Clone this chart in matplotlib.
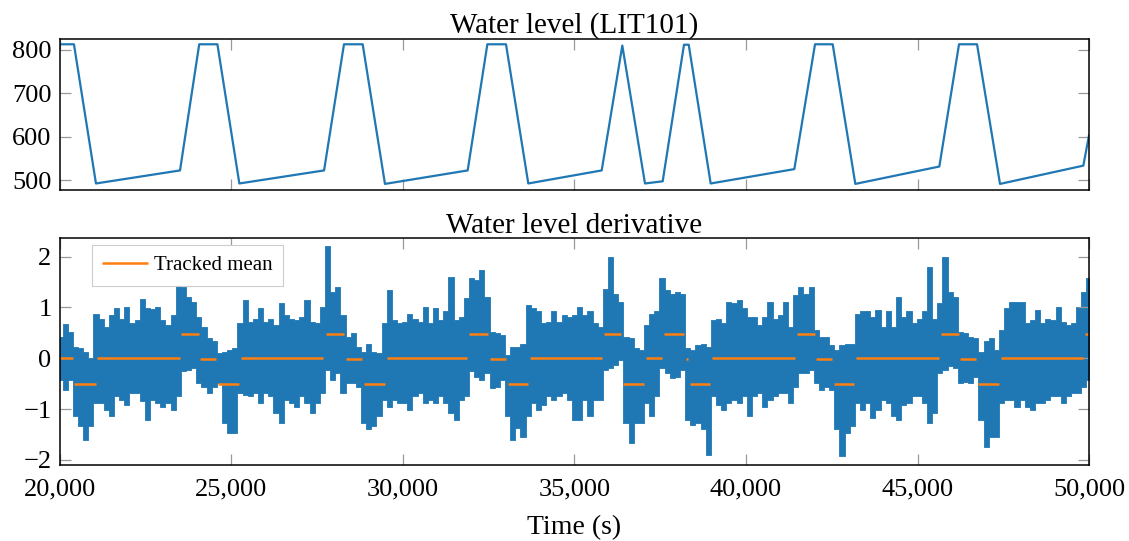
import numpy as np
import matplotlib
matplotlib.use("Agg")
import matplotlib.pyplot as plt
from matplotlib.ticker import FuncFormatter

plt.rcParams['font.family'] = ['Liberation Serif', 'DejaVu Serif']
plt.rcParams['font.size'] = 19

BLUE = '#1f77b4'
ORANGE = '#ff7f0e'

# water level breakpoints (LIT101)
level_t = [20000, 20408, 21050, 23500, 24060, 24590, 25230, 27700, 28280, 28825,
           29475, 31886, 32460, 33003, 33653, 35793, 36394, 37055, 37571, 38192,
           38330, 38970, 41409, 42012, 42527, 43187, 45636, 46210, 46735, 47405,
           49834, 50000]
level_v = [813, 813, 493, 523, 813, 813, 493, 523, 813, 813,
           492, 523, 813, 813, 493, 523, 810, 493, 498, 812,
           812, 493, 526, 813, 813, 492, 532, 813, 813, 492,
           534, 604]

# derivative envelope, one reading every 150 s from 20000 to 50000
deriv_upper = [0.42, 0.67, 0.52, 0.23, 0.2, 0.13, 0.0, 0.88, 0.78, 0.62, 0.85, 0.98,
               0.78, 1.0, 0.69, 0.75, 1.16, 0.98, 0.96, 1.01, 0.75, 0.65, 0.85, 1.44,
               1.4, 1.21, 1.11, 0.82, 0.62, 0.39, 0.33, 0.1, 0.13, 0.16,
               0.2, 0.69, 1.14, 0.72, 0.78, 0.98, 0.72, 0.78, 0.65, 1.08, 0.85, 0.78,
               0.75, 0.82, 1.14, 0.72, 0.69, 1.01, 2.2, 1.3, 1.4, 0.85, 0.42, 0.49,
               0.23, 0.13, 0.29, 0.13, 0.1, 0.69, 1.34, 0.75, 0.69,
               0.72, 0.88, 0.78, 0.72, 1.01, 0.69, 0.98, 0.75, 0.92, 1.6, 0.75, 0.82,
               1.18, 1.57, 1.54, 1.73, 1.21, 0.52, 0.49, 0.46, 0.07, 0.23, 0.23, 0.29,
               1.05, 0.98, 0.92, 0.69, 0.72, 0.92, 0.72, 0.85, 0.82, 0.85,
               1.01, 0.85, 0.92, 0.69, 0.62, 1.37, 2.0, 1.27, 1.11, 0.42, 0.39, 0.2,
               0.16, 0.65, 0.88, 0.92, 1.57, 1.34, 1.27, 1.31, 1.27, 0.2, 0.16, 0.26,
               0.29, 0.23, 0.75, 0.78, 0.69, 1.11, 1.08, 1.14, 0.98,
               0.82, 0.82, 0.65, 0.82, 1.11, 0.78, 0.85, 1.11, 0.62, 1.24, 1.4, 1.27,
               1.4, 0.56, 0.42, 0.42, 0.26, 0.16, 0.26, 0.29, 0.29, 0.88, 0.92, 0.92,
               0.82, 0.95, 0.62, 0.92, 0.62, 1.21, 0.82, 0.92, 0.69,
               0.78, 0.92, 1.8, 0.78, 1.08, 2.0, 1.31, 1.21, 0.52, 0.49, 0.42, 0.39,
               0.13, 0.33, 0.39, 0.16, 0.56, 0.98, 1.11, 1.11, 1.11, 0.69, 0.75, 0.95,
               0.69, 0.78, 0.75, 1.01, 0.72, 0.65, 0.69, 1.01, 1.31, 1.57]
deriv_lower = [-0.42, -0.62, -0.42, -1.14, -1.34, -1.6, -1.34, -0.88, -0.88, -1.01, -1.14, -0.75,
               -0.82, -0.92, -0.69, -0.69, -0.85, -1.21, -0.82, -0.88, -0.95, -0.88, -1.01, -0.75,
               -0.26, -0.23, -0.2, -0.49, -0.56, -0.69, -0.56, -0.49, -1.27, -1.47,
               -1.47, -0.69, -0.72, -0.75, -0.69, -0.88, -0.69, -0.75, -1.08, -1.27, -0.82, -0.88,
               -0.95, -0.75, -0.88, -1.08, -0.88, -0.69, -0.23, -0.42, -0.29, -0.69, -0.49, -0.49,
               -0.56, -1.27, -1.4, -1.34, -1.14, -0.82, -0.95, -0.82, -0.88,
               -0.88, -1.01, -0.75, -0.69, -0.88, -0.82, -0.88, -0.75, -0.88, -1.08, -1.21, -0.82,
               -0.75, -0.26, -0.36, -0.42, -0.29, -0.59, -0.56, -0.42, -1.14, -1.6, -1.37, -1.54,
               -1.14, -0.88, -1.01, -0.92, -0.75, -0.82, -0.75, -0.69, -0.82, -1.21,
               -1.21, -0.82, -1.14, -0.82, -0.82, -0.23, -0.2, -0.13, -0.03, -1.27, -1.67, -1.27,
               -1.27, -0.88, -1.14, -0.75, -0.2, -0.29, -0.39, -0.36, -0.23, -1.21, -1.31, -1.27,
               -1.4, -1.9, -0.75, -0.92, -1.01, -0.88, -0.82, -0.88, -0.75,
               -1.14, -0.75, -0.69, -0.95, -0.82, -0.75, -0.69, -0.69, -0.88, -0.56, -0.29, -0.29,
               -0.23, -0.49, -0.62, -0.56, -0.62, -1.4, -1.93, -1.47, -1.34, -0.88, -1.01, -0.88,
               -1.18, -1.01, -0.82, -0.88, -1.14, -1.21, -0.92, -0.88, -0.75,
               -0.75, -0.88, -1.27, -1.08, -0.29, -0.23, -0.16, -0.2, -0.49, -0.46, -0.49, -0.36,
               -1.21, -1.75, -1.54, -1.54, -0.88, -0.82, -0.82, -0.95, -0.82, -0.95, -1.01, -0.88,
               -0.88, -0.82, -0.75, -0.75, -0.88, -0.75, -0.69, -0.69, -0.56, -0.42]
deriv_t = np.arange(20000, 50001, 150)

# tracked mean segments
mean_start = [20000, 20410, 21090, 23540, 24090, 24610, 25270, 27750, 28340, 28860,
              29540, 31930, 32545, 33050, 33690, 35850, 36410, 37085, 37610, 38260,
              38365, 39020, 41494, 42048, 42563, 43215, 45680, 46245, 46760, 47440, 49880]
mean_end = [20370, 21050, 23500, 24040, 24560, 25220, 27680, 28280, 28815, 29480,
            31880, 32470, 32990, 33635, 35790, 36365, 37035, 37560, 38190, 38320,
            38960, 41426, 42000, 42515, 43147, 45630, 46195, 46700, 47380, 49810, 50000]
mean_value = [0.0, -0.5, 0.0, 0.47, -0.02, -0.5, 0.0, 0.47, -0.02, -0.5,
              0.0, 0.47, -0.02, -0.5, 0.0, 0.47, -0.5, 0.0, 0.47, -0.02,
              -0.5, 0.0, 0.47, -0.02, -0.5, 0.0, 0.47, -0.02, -0.5, 0.0, 0.47]

fig = plt.figure(figsize=(11.29, 5.41), dpi=100)
ax1 = fig.add_axes([0.0531, 0.6488, 0.9115, 0.279])
ax2 = fig.add_axes([0.0531, 0.1405, 0.9115, 0.419])

ax1.plot(level_t, level_v, color=BLUE, lw=1.6)
ax1.set_xlim(20000, 50000)
ax1.set_ylim(478, 825)
ax1.set_yticks([500, 600, 700, 800])
ax1.set_xticks([20000, 25000, 30000, 35000, 40000, 45000, 50000])
ax1.set_xticklabels([])
ax1.set_title('Water level (LIT101)', pad=4, fontsize=21)

# the raw signal, drawn as its band between the read extremes
ax2.fill_between(deriv_t, deriv_lower, deriv_upper, step='mid', color=BLUE,
                 lw=0.6, edgecolor=BLUE)
ax2.hlines(mean_value, mean_start, mean_end, color=ORANGE, lw=1.8, label='Tracked mean')
ax2.set_xlim(20000, 50000)
ax2.set_ylim(-2.1, 2.36)
ax2.set_yticks([-2, -1, 0, 1, 2])
ax2.set_xticks([20000, 25000, 30000, 35000, 40000, 45000, 50000])
ax2.xaxis.set_major_formatter(FuncFormatter(lambda v, p: '{:,.0f}'.format(v)))
ax2.set_title('Water level derivative', pad=4, fontsize=21)
ax2.set_xlabel('Time (s)', labelpad=10, fontsize=20)
leg = ax2.legend(loc='upper left', bbox_to_anchor=(0.031, 0.97), borderaxespad=0,
                 fontsize=15, fancybox=False, framealpha=1, edgecolor='#cccccc',
                 handlelength=2.2, handletextpad=0.3, borderpad=0.5)
leg.get_frame().set_linewidth(0.8)

for ax in (ax1, ax2):
    ax.tick_params(direction='in', top=True, right=True, length=8, width=0.9,
                   color='#999999', pad=6)
    for s in ax.spines.values():
        s.set_linewidth(1.1)
ax2.tick_params(axis='x', pad=10)

fig.savefig('out.png', dpi=100)
